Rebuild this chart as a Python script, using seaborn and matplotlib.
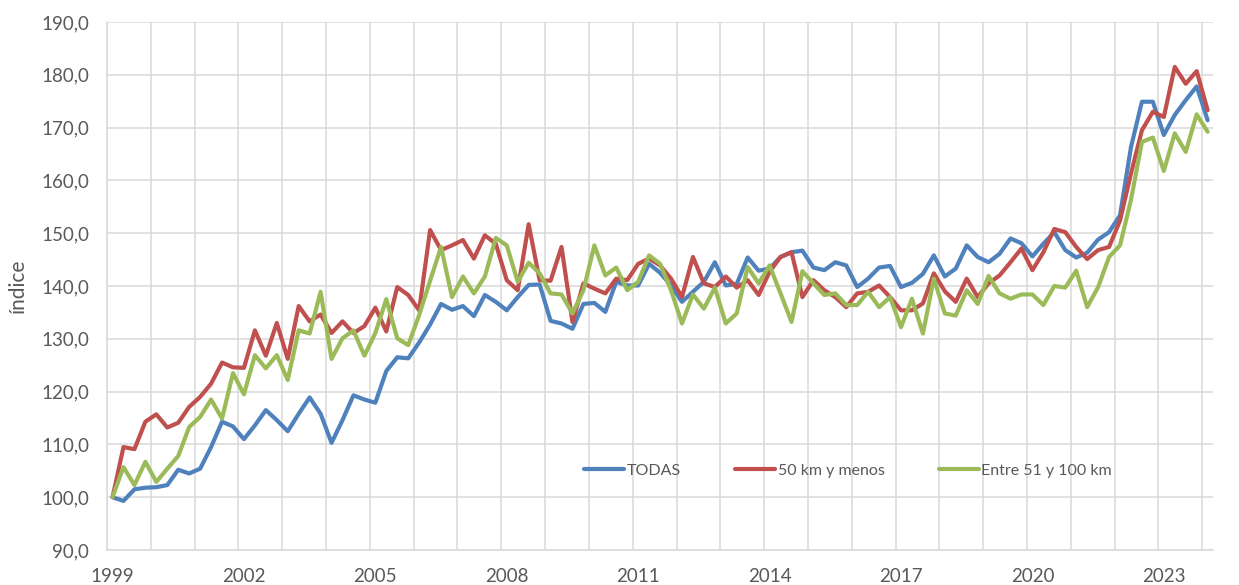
import numpy as np
import pandas as pd
import matplotlib
matplotlib.use("Agg")
import matplotlib.pyplot as plt
import seaborn as sns

# Quarterly index values, 1999 Q1 = 100 (1999 Q1 .. 2024 Q1)
todas = [100.0, 99.3, 101.5, 101.8, 101.9, 102.3, 105.2, 104.5, 105.4, 109.5,
         114.3, 113.4, 111.0, 113.6, 116.5, 114.6, 112.5, 115.8, 118.9, 115.8,
         110.3, 114.6, 119.3, 118.5, 117.9, 123.9, 126.5, 126.3, 129.3, 132.7,
         136.6, 135.5, 136.2, 134.3, 138.3, 137.0, 135.4, 137.9, 140.2, 140.3,
         133.4, 132.9, 131.9, 136.6, 136.8, 135.1, 140.8, 140.1, 140.1, 144.2,
         142.5, 140.1, 137.0, 138.9, 140.8, 144.5, 140.1, 140.4, 145.4, 142.9,
         143.3, 145.5, 146.4, 146.7, 143.5, 143.0, 144.5, 143.9, 139.8, 141.4,
         143.5, 143.8, 139.8, 140.6, 142.3, 145.8, 141.8, 143.3, 147.7, 145.5,
         144.5, 146.1, 149.0, 148.1, 145.6, 148.0, 150.2, 146.8, 145.4, 146.3,
         148.8, 150.2, 153.4, 166.3, 174.9, 174.9, 168.6, 172.4, 175.2, 177.8,
         171.4]

menos_50 = [100.0, 109.5, 109.1, 114.3, 115.7, 113.2, 114.1, 117.1, 119.0, 121.5,
            125.5, 124.6, 124.5, 131.6, 126.8, 133.0, 126.2, 136.2, 133.3, 134.6,
            131.1, 133.3, 131.1, 132.4, 135.9, 131.4, 139.8, 138.3, 135.4, 150.6,
            146.8, 147.7, 148.7, 145.2, 149.6, 148.0, 141.1, 139.2, 151.7, 141.1,
            141.0, 147.4, 133.2, 140.5, 139.5, 138.6, 141.4, 141.1, 144.2, 145.2,
            143.9, 141.4, 137.9, 145.5, 140.5, 139.8, 141.8, 139.7, 141.1, 138.3,
            142.7, 145.5, 146.4, 137.9, 141.1, 139.2, 137.9, 136.0, 138.6, 138.9,
            140.1, 137.9, 135.4, 135.4, 136.7, 142.4, 139.0, 137.0, 141.4, 137.9,
            140.5, 142.0, 144.5, 147.1, 143.0, 146.4, 150.8, 150.2, 147.4, 145.1,
            146.8, 147.4, 152.4, 161.3, 169.5, 173.0, 172.0, 181.5, 178.3, 180.7,
            173.3]

entre_51_100 = [100.0, 105.7, 102.3, 106.7, 102.9, 105.4, 107.8, 113.3, 115.2, 118.5,
                114.9, 123.5, 119.5, 126.9, 124.4, 126.9, 122.2, 131.6, 131.0, 138.9,
                126.2, 130.1, 131.6, 126.8, 131.1, 137.5, 130.1, 128.8, 134.5, 141.0,
                147.4, 137.9, 141.8, 138.6, 141.8, 149.1, 147.7, 140.8, 144.4, 142.4,
                138.6, 138.4, 134.8, 139.2, 147.7, 142.0, 143.5, 139.2, 140.8, 145.8,
                144.2, 139.2, 132.9, 138.4, 135.7, 139.7, 132.9, 134.8, 143.6, 140.5,
                143.9, 138.6, 133.2, 142.8, 140.5, 138.3, 138.6, 136.4, 136.4, 138.9,
                136.0, 137.9, 132.2, 137.6, 131.0, 141.4, 134.8, 134.4, 139.2, 136.6,
                141.9, 138.6, 137.6, 138.4, 138.4, 136.4, 140.0, 139.7, 142.9, 136.0,
                139.8, 145.5, 147.7, 156.3, 167.3, 168.1, 161.8, 168.9, 165.4, 172.5,
                169.2]

series_names = ["TODAS", "50 km y menos", "Entre 51 y 100 km"]
colors = ["#4F81BD", "#C0504D", "#9BBB59"]
year_labels = ["1999", "2002", "2005", "2008", "2011", "2014", "2017", "2020", "2023"]

n = len(todas)
df = pd.DataFrame({
    "t": list(range(n)) * 3,
    "valor": todas + menos_50 + entre_51_100,
    "serie": [s for s in series_names for _ in range(n)],
})

sns.set_style("white")
plt.rcParams["font.family"] = ["Lato", "DejaVu Sans"]

fig = plt.figure(figsize=(12.39, 5.85), dpi=100)
ax = fig.add_axes([0.0864, 0.0598, 0.8927, 0.9026])

sns.lineplot(data=df, x="t", y="valor", hue="serie", hue_order=series_names,
             palette=colors, linewidth=3.0, ax=ax)

ax.set_xlim(-0.5, n - 0.5)
ax.set_ylim(90, 190)

# year labels every 12 quarters, gridlines every 4 quarters
ax.set_xticks(np.arange(0, 97, 12))
ax.set_xticklabels(year_labels)
ax.set_xticks(np.arange(-0.5, n, 4), minor=True)
yt = np.arange(90, 191, 10)
ax.set_yticks(yt)
ax.set_yticklabels([f"{v:.1f}".replace(".", ",") for v in yt])

ax.grid(False)
ax.grid(True, which="minor", axis="x", color="#D9D9D9", linewidth=1.1)
ax.grid(True, which="major", axis="y", color="#D9D9D9", linewidth=1.1)
ax.set_axisbelow(True)

ax.tick_params(axis="both", which="both", length=0, labelsize=13.5,
               labelcolor="#595959")
ax.tick_params(axis="x", pad=13)
ax.tick_params(axis="y", pad=13)

for side in ["top", "right"]:
    ax.spines[side].set_visible(False)
for side in ["left", "bottom"]:
    ax.spines[side].set_color("#D9D9D9")
    ax.spines[side].set_linewidth(1.1)

ax.set_xlabel("")
ax.set_ylabel("índice", fontsize=15, color="#595959", labelpad=10)

ax.legend(loc="center", bbox_to_anchor=(0.67, 0.15), ncol=3, frameon=False,
          fontsize=11.5, handlelength=2.5, handletextpad=0.15, columnspacing=3.4,
          labelcolor="#595959")

fig.savefig("out.png", dpi=100)
